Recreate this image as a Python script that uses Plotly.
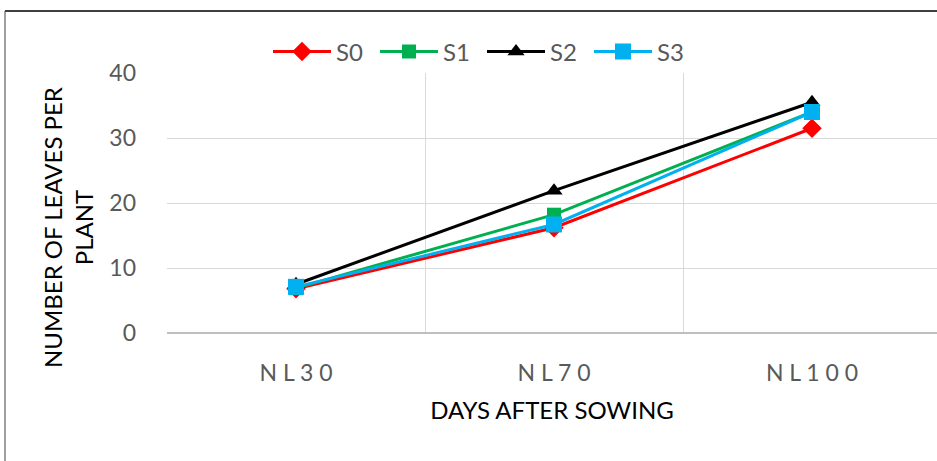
import plotly.graph_objects as go

categories = ["NL30", "NL70", "NL100"]
tick_labels = ["N L 3 0", "N L 7 0", "N L 1 0 0"]
s0 = [6.8, 16.2, 31.5]
s1 = [6.9, 18.2, 34.0]
s2 = [7.5, 21.9, 35.5]
s3 = [7.1, 16.7, 34.0]
y_ticks = [0, 10, 20, 30, 40]

FONT = "Lato, Liberation Sans, sans-serif"
xs = list(range(len(categories)))

fig = go.Figure()
series = [
    ("S0", s0, "#ff0000", "diamond", 15),
    ("S1", s1, "#00b050", "square", 14),
    ("S2", s2, "#000000", "triangle-up", 15),
    ("S3", s3, "#00b0f0", "square", 16),
]
for name, vals, color, sym, sz in series:
    fig.add_trace(go.Scatter(
        x=xs, y=vals, name=name, mode="lines+markers",
        line=dict(color=color, width=3),
        marker=dict(symbol=sym, size=sz, color=color, line=dict(width=0)),
    ))

fig.update_layout(
    width=937, height=461,
    margin=dict(l=167, r=0, t=73, b=128),
    plot_bgcolor="white", paper_bgcolor="white",
    font=dict(family=FONT, size=24, color="#595959"),
    showlegend=True,
    legend=dict(orientation="h", x=(482 - 167) / 770, xanchor="center", y=1 + 21 / 260, yanchor="middle",
                font=dict(size=24, color="#595959"), itemwidth=58,
                entrywidth=34, entrywidthmode="pixels",
                tracegroupgap=0, bgcolor="rgba(0,0,0,0)"),
    xaxis=dict(
        range=[-0.5, -0.5 + 770 / 258], tickvals=xs, ticktext=tick_labels,
        showgrid=False, zeroline=False, showline=False, ticks="",
        tickfont=dict(size=23, color="#595959"), ticklabelstandoff=24,
        minor=dict(tickvals=[0.5, 1.5], showgrid=True, gridcolor="#d9d9d9", gridwidth=1.3),
        title=dict(text="DAYS AFTER SOWING", font=dict(size=24, color="#000000"), standoff=17),
    ),
    yaxis=dict(
        range=[0, 40], tickvals=y_ticks, showgrid=True, gridcolor="#d9d9d9", gridwidth=1.3,
        zeroline=True, zerolinecolor="#bfbfbf", zerolinewidth=1.5, showline=False, ticks="",
        tickfont=dict(size=23, color="#595959"), ticklabelstandoff=30,
    ),
    shapes=[
        dict(type="line", xref="paper", yref="paper", x0=-162/770, x1=1.0, y0=1 + 62/260, y1=1 + 62/260,
             line=dict(color="#000000", width=1.5)),
        dict(type="line", xref="paper", yref="paper", x0=-162/770, x1=-162/770, y0=1 + 62/260, y1=-128/260,
             line=dict(color="#404040", width=1)),
    ],
    annotations=[
        dict(text="NUMBER OF LEAVES PER<br>PLANT", xref="paper", yref="paper",
             x=(68 - 167) / 770, y=(333 - 228) / 260, xanchor="center", yanchor="middle",
             textangle=-90, showarrow=False,
             font=dict(size=24, color="#000000"), align="center"),
    ],
)

fig.write_html("out.html")
